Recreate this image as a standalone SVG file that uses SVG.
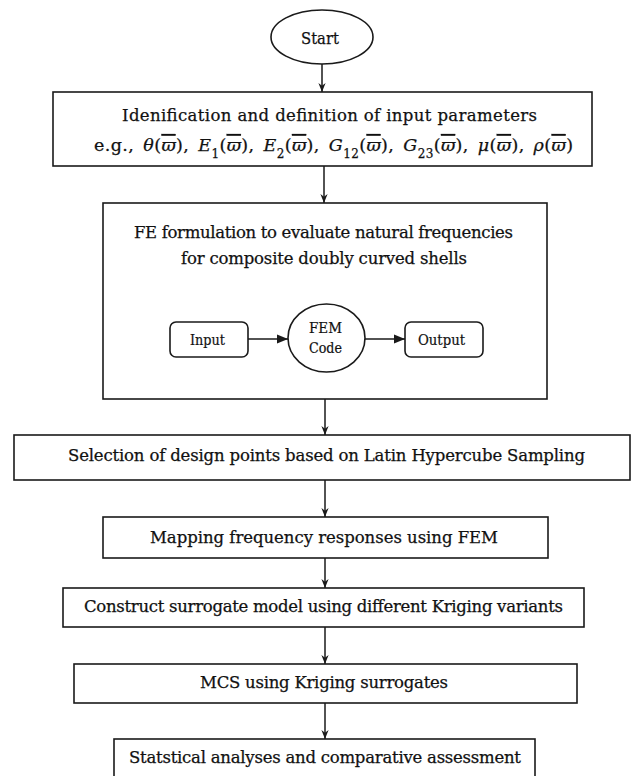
<svg xmlns="http://www.w3.org/2000/svg" width="633" height="776" viewBox="0 0 633 776">
<style>
  .box { fill: #fff; stroke: #1a1a1a; stroke-width: 1.6; }
  .rbox { fill: #fff; stroke: #1a1a1a; stroke-width: 1.6; }
  .t { font-family: "DejaVu Serif", "Liberation Serif", serif; font-size: 16.5px; fill: #111; stroke: #111; stroke-width: 0.25; }
  .f { font-size: 17.5px; word-spacing: 3px; }
  .ts { font-family: "DejaVu Serif", "Liberation Serif", serif; font-size: 14px; fill: #111; stroke: #111; stroke-width: 0.2; }
  .i { font-style: italic; }
  .ob { font-style: italic; text-decoration: overline; }
  .sub { font-size: 12px; }
  .conn line { stroke: #1a1a1a; stroke-width: 1.5; fill: none; }
</style>
<defs>
  <marker id="ah" viewBox="0 0 10 10" refX="10" refY="5" markerWidth="9" markerHeight="9" orient="auto" markerUnits="userSpaceOnUse">
    <path d="M0,1 L10,5 L0,9 L3,5 z" fill="#1a1a1a"/>
  </marker>
  <marker id="ahb" viewBox="0 0 10 10" refX="10" refY="5" markerWidth="11" markerHeight="11" orient="auto" markerUnits="userSpaceOnUse">
    <path d="M0,1 L10,5 L0,9 z" fill="#1a1a1a"/>
  </marker>
</defs>
<rect width="633" height="776" fill="#fff"/>

<g id="start">
  <ellipse class="box" cx="322" cy="37" rx="51" ry="27"/>
  <text class="t" x="301" y="44" textLength="38" lengthAdjust="spacingAndGlyphs">Start</text>
</g>

<g id="identification">
  <rect class="box" x="53" y="92" width="539" height="74"/>
  <text class="t" x="122" y="121" textLength="415" lengthAdjust="spacing">Idenification  and definition  of input  parameters</text>
  <text class="t f" x="94" y="151" textLength="479" lengthAdjust="spacing">e.g., <tspan class="i">θ</tspan>(<tspan class="ob">ϖ</tspan>), <tspan class="i">E</tspan><tspan class="sub" baseline-shift="sub">1</tspan>(<tspan class="ob">ϖ</tspan>), <tspan class="i">E</tspan><tspan class="sub" baseline-shift="sub">2</tspan>(<tspan class="ob">ϖ</tspan>), <tspan class="i">G</tspan><tspan class="sub" baseline-shift="sub">12</tspan>(<tspan class="ob">ϖ</tspan>), <tspan class="i">G</tspan><tspan class="sub" baseline-shift="sub">23</tspan>(<tspan class="ob">ϖ</tspan>), <tspan class="i">μ</tspan>(<tspan class="ob">ϖ</tspan>), <tspan class="i">ρ</tspan>(<tspan class="ob">ϖ</tspan>)</text>
</g>

<g id="fe-formulation">
  <rect class="box" x="103" y="203" width="444" height="196"/>
  <text class="t" x="134" y="238" textLength="379" lengthAdjust="spacing">FE formulation  to evaluate  natural  frequencies</text>
  <text class="t" x="181" y="264" textLength="286" lengthAdjust="spacing">for  composite  doubly  curved  shells</text>
</g>

<g id="input">
  <rect class="rbox" x="170" y="322" width="78" height="35" rx="6"/>
  <text class="ts" x="190" y="345" textLength="35" lengthAdjust="spacingAndGlyphs">Input</text>
</g>

<g id="fem-code">
  <ellipse class="box" cx="326.5" cy="338" rx="38.5" ry="34"/>
  <text class="ts" x="309" y="333" textLength="33" lengthAdjust="spacingAndGlyphs">FEM</text>
  <text class="ts" x="309" y="353" textLength="33" lengthAdjust="spacingAndGlyphs">Code</text>
</g>

<g id="output">
  <rect class="rbox" x="405" y="322" width="78" height="35" rx="6"/>
  <text class="ts" x="418" y="345" textLength="47" lengthAdjust="spacingAndGlyphs">Output</text>
</g>

<g id="selection">
  <rect class="box" x="14" y="435" width="616" height="45"/>
  <text class="t" x="68" y="461" textLength="517" lengthAdjust="spacing">Selection  of design  points  based on Latin  Hypercube  Sampling</text>
</g>

<g id="mapping">
  <rect class="box" x="103" y="517" width="445" height="41"/>
  <text class="t" x="150" y="543" textLength="348" lengthAdjust="spacing">Mapping  frequency  responses using  FEM</text>
</g>

<g id="construct">
  <rect class="box" x="63" y="588" width="521" height="39"/>
  <text class="t" x="84" y="612" textLength="479" lengthAdjust="spacing">Construct  surrogate  model using  different  Kriging  variants</text>
</g>

<g id="mcs">
  <rect class="box" x="74" y="664" width="503" height="39"/>
  <text class="t" x="200" y="688" textLength="248" lengthAdjust="spacing">MCS using  Kriging  surrogates</text>
</g>

<g id="statistical">
  <rect class="box" x="114" y="739" width="421" height="50"/>
  <text class="t" x="129" y="763" textLength="392" lengthAdjust="spacing">Statstical  analyses  and comparative  assessment</text>
</g>

<g id="connectors" class="conn">
  <line x1="322" y1="64" x2="322" y2="92" marker-end="url(#ah)"/>
  <line x1="324" y1="166" x2="324" y2="203" marker-end="url(#ah)"/>
  <line x1="325" y1="399" x2="325" y2="435" marker-end="url(#ah)"/>
  <line x1="325" y1="480" x2="325" y2="517" marker-end="url(#ah)"/>
  <line x1="325" y1="558" x2="325" y2="588" marker-end="url(#ah)"/>
  <line x1="325" y1="627" x2="325" y2="664" marker-end="url(#ah)"/>
  <line x1="325" y1="703" x2="325" y2="739" marker-end="url(#ah)"/>
  <line x1="248" y1="339" x2="288" y2="339" marker-end="url(#ahb)"/>
  <line x1="365" y1="339" x2="405" y2="339" marker-end="url(#ahb)"/>
</g>
</svg>
